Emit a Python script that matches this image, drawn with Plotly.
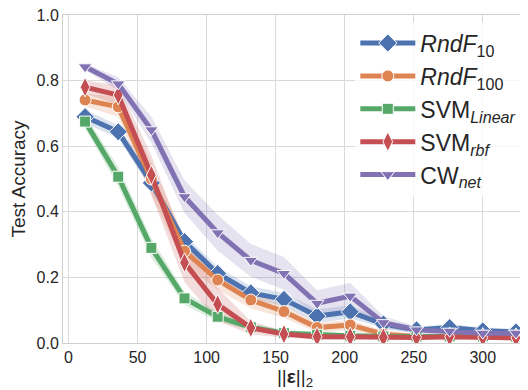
import plotly.graph_objects as go

eps = [12, 36, 60, 84, 108, 132, 156, 180, 204, 228, 252, 276, 300, 324]

rndf10 = [0.69, 0.644, 0.488, 0.309, 0.212, 0.153, 0.133, 0.082, 0.095, 0.058, 0.040, 0.047, 0.037, 0.034]
rndf10_sd = [0.02, 0.02, 0.02, 0.02, 0.02, 0.02, 0.02, 0.02, 0.02, 0.012, 0.01, 0.01, 0.01, 0.01]

rndf100 = [0.741, 0.72, 0.50, 0.28, 0.192, 0.131, 0.096, 0.047, 0.055, 0.027, 0.02, 0.02, 0.02, 0.02]
rndf100_sd = [0.02, 0.03, 0.05, 0.04, 0.03, 0.025, 0.02, 0.015, 0.015, 0.01, 0.008, 0.008, 0.008, 0.008]

svm_lin = [0.675, 0.507, 0.29, 0.136, 0.08, 0.048, 0.03, 0.025, 0.022, 0.02, 0.02, 0.02, 0.02, 0.02]
svm_lin_sd = [0.02, 0.03, 0.03, 0.02, 0.015, 0.01, 0.01, 0.008, 0.008, 0.008, 0.008, 0.008, 0.008, 0.008]

svm_rbf = [0.78, 0.756, 0.512, 0.245, 0.118, 0.046, 0.027, 0.019, 0.019, 0.017, 0.017, 0.019, 0.017, 0.016]
svm_rbf_sd = [0.02, 0.03, 0.06, 0.06, 0.05, 0.02, 0.01, 0.008, 0.008, 0.008, 0.008, 0.008, 0.008, 0.008]

cw_net = [0.842, 0.79, 0.65, 0.446, 0.336, 0.252, 0.212, 0.121, 0.143, 0.062, 0.04, 0.036, 0.03, 0.03]
cw_net_sd = [0.01, 0.02, 0.04, 0.05, 0.055, 0.05, 0.05, 0.04, 0.04, 0.02, 0.01, 0.01, 0.01, 0.01]

x_ticks = [0, 50, 100, 150, 200, 250, 300]
y_ticks = [0.0, 0.2, 0.4, 0.6, 0.8, 1.0]

series = [
    ("<i>RndF</i><sub>10</sub>", rndf10, rndf10_sd, "#4C72B0", "diamond", 14),
    ("<i>RndF</i><sub>100</sub>", rndf100, rndf100_sd, "#DD8452", "circle", 12),
    ("SVM<sub><i>Linear</i></sub>", svm_lin, svm_lin_sd, "#55A868", "square", 11),
    ("SVM<sub><i>rbf</i></sub>", svm_rbf, svm_rbf_sd, "#C44E52", "diamond-tall", 14),
    ("CW<sub><i>net</i></sub>", cw_net, cw_net_sd, "#8172B3", "triangle-down", 12),
]


def hex_rgba(h, a):
    h = h.lstrip("#")
    r, g, b = int(h[0:2], 16), int(h[2:4], 16), int(h[4:6], 16)
    return f"rgba({r},{g},{b},{a})"


fig = go.Figure()
for name, vals, sd, col, sym, ms in series:
    up = [v + s for v, s in zip(vals, sd)]
    lo = [v - s for v, s in zip(vals, sd)]
    fig.add_trace(go.Scatter(
        x=eps + eps[::-1], y=up + lo[::-1], fill="toself",
        fillcolor=hex_rgba(col, 0.2), line=dict(width=0),
        mode="lines", showlegend=False, hoverinfo="skip"))
for name, vals, sd, col, sym, ms in series:
    fig.add_trace(go.Scatter(
        x=eps, y=vals, name=name, mode="lines+markers",
        line=dict(color=col, width=5),
        marker=dict(symbol=sym, size=ms, color=col, line=dict(color="white", width=1))))

# page body has an 8px margin, so the figure is sized to fit the window
fig.update_layout(
    width=520, height=382,
    margin=dict(l=55, r=1, t=7, b=47),
    paper_bgcolor="white", plot_bgcolor="white",
    font=dict(family="Liberation Sans, Arial, sans-serif", size=16, color="#262626"),
    legend=dict(x=0.63, y=0.98, xanchor="left", yanchor="top",
                bgcolor="rgba(255,255,255,0.8)", font=dict(size=23),
                tracegroupgap=0, itemwidth=55),
    showlegend=True,
)
fig.update_xaxes(range=[-4, 332], tickvals=x_ticks, showgrid=True, gridcolor="#d9d9d9",
                 showline=True, linecolor="#d0d0d0", mirror=True, zeroline=False,
                 ticks="", automargin=False, ticklabeloverflow="allow",
                 title=dict(text="||<b>ε</b>||<sub>2</sub>", standoff=6))
fig.update_yaxes(range=[0, 1.0], tickvals=y_ticks, tickformat=".1f", showgrid=True,
                 gridcolor="#d9d9d9", showline=True, linecolor="#d0d0d0", mirror=True,
                 zeroline=False, ticks="", automargin=False, ticklabeloverflow="allow",
                 title=dict(text="Test Accuracy", standoff=7))

fig.write_html("out.html")
